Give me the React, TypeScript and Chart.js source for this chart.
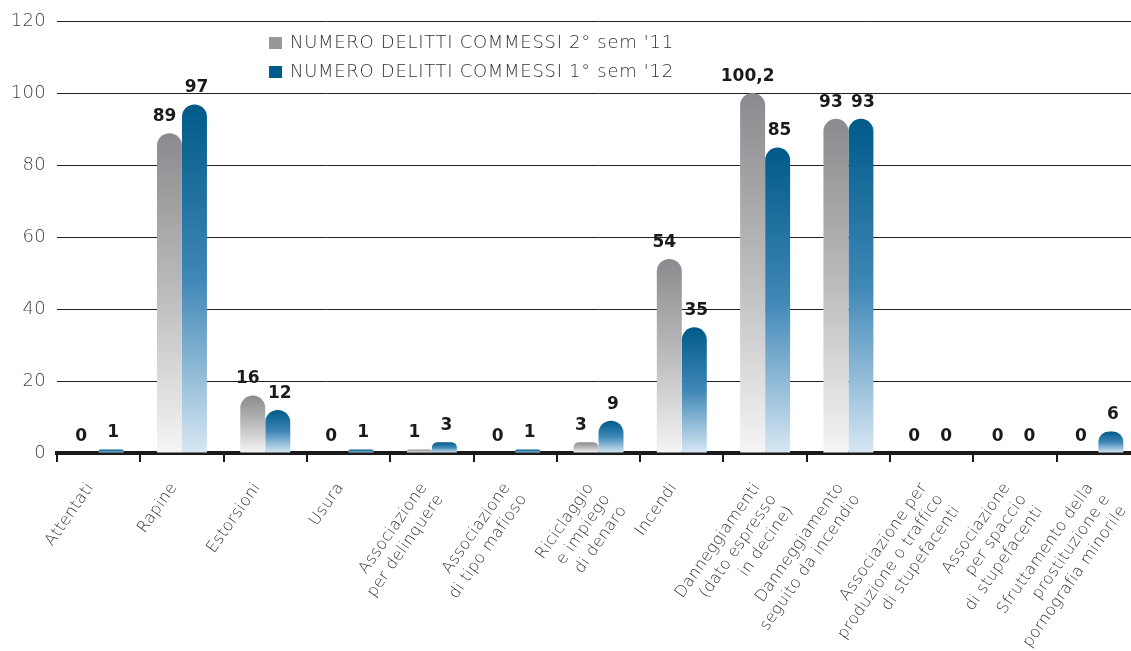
import React, { useEffect, useRef } from 'react';
import { Chart, registerables } from 'chart.js';

Chart.register(...registerables);

const categories: (string | string[])[] = [
  'Attentati',
  'Rapine',
  'Estorsioni',
  'Usura',
  ['Associazione', 'per delinquere'],
  ['Associazione', 'di tipo mafioso'],
  ['Riciclaggio', 'e impiego', 'di denaro'],
  'Incendi',
  ['Danneggiamenti', '(dato espresso', 'in decine)'],
  ['Danneggiamento', 'seguito da incendio'],
  ['Associazione per', 'produzione o traffico', 'di stupefacenti'],
  ['Associazione', 'per spaccio', 'di stupefacenti'],
  ['Sfruttamento della', 'prostituzione e', 'pornografia minorile'],
];

const sem2_2011 = [0, 89, 16, 0, 1, 0, 3, 54, 100.2, 93, 0, 0, 0];
const sem1_2012 = [1, 97, 12, 1, 3, 1, 9, 35, 85, 93, 0, 0, 6];

const seriesLabels = [
  "NUMERO DELITTI COMMESSI 2° sem '11",
  "NUMERO DELITTI COMMESSI 1° sem '12",
];

const yMin = 0;
const yMax = 120;
const yStep = 20;

const greyStops = ['#8b8b8f', '#bcbcbe', '#f5f5f6'];
const blueStops = ['#005a88', '#3f87b7', '#d7e7f3'];
const legendColors = ['#98989c', '#005d8b'];

const FONT = "'DejaVu Sans', sans-serif";

function gradientFor(stops: string[]) {
  return (c: any) => {
    const chart = c.chart;
    const area = chart.chartArea;
    if (!area || c.type !== 'data') return stops[0];
    const ys = chart.scales.y;
    const v = c.raw as number;
    const top = ys.getPixelForValue(v);
    const bot = ys.getPixelForValue(0);
    if (bot - top < 1) return stops[0];
    const g = chart.ctx.createLinearGradient(0, top, 0, bot);
    g.addColorStop(0, stops[0]);
    g.addColorStop(0.5, stops[1]);
    g.addColorStop(1, stops[2]);
    return g;
  };
}

const spacingPlugin = {
  id: 'spacing',
  beforeDraw(chart: any) {
    chart.ctx.save();
    (chart.ctx as any).letterSpacing = '0.3px';
  },
  afterDraw(chart: any) {
    chart.ctx.restore();
  },
};

const labelNudge = [-5, 2];

const valueLabelPlugin = {
  id: 'valueLabels',
  afterDatasetsDraw(chart: any) {
    const ctx = chart.ctx;
    ctx.save();
    (ctx as any).letterSpacing = '0px';
    ctx.font = `bold 17px ${FONT}`;
    ctx.fillStyle = '#1a1a1a';
    ctx.textAlign = 'center';
    ctx.textBaseline = 'bottom';
    chart.data.datasets.forEach((ds: any, di: number) => {
      const meta = chart.getDatasetMeta(di);
      meta.data.forEach((el: any, i: number) => {
        const v = ds.data[i] as number;
        const txt = String(v).replace('.', ',');
        ctx.fillText(txt, el.x + labelNudge[di], el.y - 8);
      });
    });
    ctx.restore();
  },
};

const legendPlugin = {
  id: 'customLegend',
  afterDraw(chart: any) {
    const ctx = chart.ctx;
    ctx.save();
    (ctx as any).letterSpacing = '0.7px';
    ctx.font = `200 18px ${FONT}`;
    ctx.textBaseline = 'middle';
    ctx.textAlign = 'left';
    const x0 = 269;
    const rows = [43, 72];
    chart.data.datasets.forEach((ds: any, i: number) => {
      const y = rows[i];
      ctx.fillStyle = legendColors[i];
      ctx.fillRect(x0, y - 6, 13, 12);
      ctx.fillStyle = '#333333';
      ctx.fillText(ds.label, x0 + 21, y);
    });
    ctx.restore();
  },
};

export default function App() {
  const ref = useRef<HTMLCanvasElement | null>(null);

  useEffect(() => {
    if (!ref.current) return;
    const chart = new Chart(ref.current, {
      type: 'bar',
      data: {
        labels: categories as any,
        datasets: [
          {
            label: seriesLabels[0],
            data: sem2_2011,
            backgroundColor: gradientFor(greyStops),
            borderRadius: { topLeft: 13, topRight: 13, bottomLeft: 0, bottomRight: 0 },
            borderSkipped: 'start',
            categoryPercentage: 0.6,
            barPercentage: 1.0,
          },
          {
            label: seriesLabels[1],
            data: sem1_2012,
            backgroundColor: gradientFor(blueStops),
            borderRadius: { topLeft: 13, topRight: 13, bottomLeft: 0, bottomRight: 0 },
            borderSkipped: 'start',
            categoryPercentage: 0.6,
            barPercentage: 1.0,
          },
        ],
      },
      options: {
        animation: false,
        responsive: true,
        maintainAspectRatio: false,
        layout: { padding: { top: 21, left: 0, right: 0, bottom: 0 } },
        plugins: {
          legend: { display: false },
          tooltip: { enabled: false },
        },
        scales: {
          x: {
            grid: {
              offset: true,
              drawOnChartArea: false,
              drawTicks: true,
              tickLength: 9,
              color: '#1a1a1a',
              lineWidth: 2,
            },
            border: { display: true, color: '#1a1a1a', width: 4 },
            ticks: {
              autoSkip: false,
              maxRotation: 55,
              minRotation: 55,
              padding: 17,
              labelOffset: -8,
              color: '#333333',
              font: { family: FONT, size: 16, weight: 200 as any, lineHeight: 1.25 },
            },
            afterFit: (s: any) => {
              s.height = 198;
              s.paddingLeft = 0;
              s.paddingRight = 0;
            },
          },
          y: {
            min: yMin,
            max: yMax,
            ticks: {
              stepSize: yStep,
              padding: 11,
              color: '#444444',
              font: { family: FONT, size: 18, weight: 200 as any },
            },
            grid: {
              drawTicks: false,
              color: (c: any) => (c.tick && c.tick.value === 0 ? 'rgba(0,0,0,0)' : '#222222'),
              lineWidth: 1,
            },
            border: { display: false },
            afterFit: (s: any) => {
              s.width = 57;
            },
          },
        },
      },
      plugins: [spacingPlugin, valueLabelPlugin, legendPlugin],
    });
    return () => chart.destroy();
  }, []);

  return (
    <div style={{ position: 'fixed', left: 0, top: 0, width: 1131, height: 651, overflow: 'hidden', background: '#ffffff' }}>
      <div style={{ position: 'relative', width: 1140, height: 651 }}>
        <canvas ref={ref} />
      </div>
    </div>
  );
}
